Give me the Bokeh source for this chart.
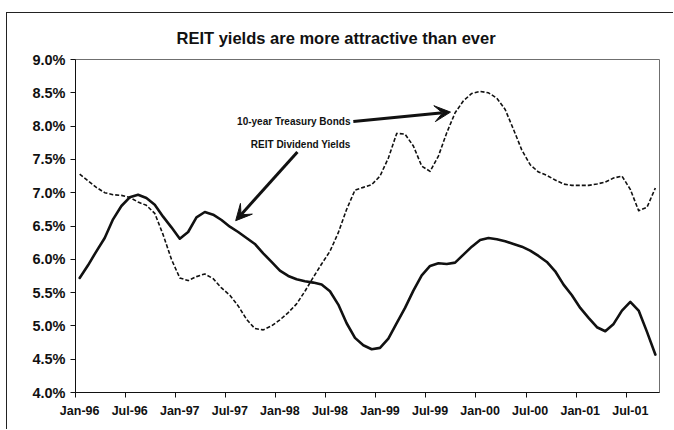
from bokeh.plotting import figure
from bokeh.models import FixedTicker, Label, Arrow, VeeHead
from bokeh.core.properties import value
from bokeh.embed import file_html
from bokeh.resources import INLINE

# ---------------- data ----------------
title_text = "REIT yields are more attractive than ever"

x_tick_labels = ["Jan-96", "Jul-96", "Jan-97", "Jul-97", "Jan-98", "Jul-98",
                 "Jan-99", "Jul-99", "Jan-00", "Jul-00", "Jan-01", "Jul-01"]

y_tick_values = [4.0, 4.5, 5.0, 5.5, 6.0, 6.5, 7.0, 7.5, 8.0, 8.5, 9.0]
y_tick_labels = ["4.0%", "4.5%", "5.0%", "5.5%", "6.0%", "6.5%",
                 "7.0%", "7.5%", "8.0%", "8.5%", "9.0%"]

# monthly values, Jan-96 .. Oct-01 (percent)
reit_dividend_yield = [
    5.72, 5.91, 6.12, 6.32, 6.60, 6.80, 6.93, 6.97, 6.92, 6.82, 6.64, 6.48,
    6.31, 6.41, 6.63, 6.71, 6.67, 6.59, 6.49, 6.41, 6.32, 6.23, 6.09, 5.96,
    5.83, 5.75, 5.70, 5.67, 5.65, 5.62, 5.52, 5.32, 5.04, 4.82, 4.71, 4.65,
    4.67, 4.81, 5.04, 5.27, 5.53, 5.76, 5.90, 5.94, 5.93, 5.95, 6.07, 6.19,
    6.29, 6.32, 6.30, 6.27, 6.23, 6.19, 6.13, 6.05, 5.96, 5.82, 5.62, 5.46,
    5.27, 5.12, 4.98, 4.92, 5.03, 5.23, 5.36, 5.23, 4.91, 4.57,
]

treasury_10y_yield = [
    7.28, 7.18, 7.08, 7.00, 6.97, 6.96, 6.93, 6.86, 6.81, 6.69, 6.37, 6.00,
    5.72, 5.68, 5.74, 5.78, 5.71, 5.57, 5.46, 5.30, 5.10, 4.96, 4.94, 5.00,
    5.09, 5.20, 5.33, 5.52, 5.73, 5.93, 6.12, 6.40, 6.75, 7.04, 7.08, 7.12,
    7.25, 7.52, 7.89, 7.88, 7.70, 7.40, 7.32, 7.55, 7.90, 8.20, 8.38, 8.49,
    8.52, 8.50, 8.42, 8.25, 7.95, 7.64, 7.42, 7.31, 7.26, 7.19, 7.13, 7.11,
    7.11, 7.11, 7.13, 7.16, 7.22, 7.25, 7.05, 6.73, 6.78, 7.07,
]

# ---------------- layout ----------------
n_months = len(reit_dividend_yield)
month_pos = [i + 0.5 for i in range(n_months)]          # category centres
boundary_ticks = [6 * k for k in range(len(x_tick_labels))]
label_ticks = [6 * k + 0.5 for k in range(len(x_tick_labels))]

FONT = "Liberation Sans"
INK = "#111111"

p = figure(width=667, height=417, x_range=(0, n_months), y_range=(4, 9),
           output_backend="svg", toolbar_location=None,
           min_border_left=68, min_border_right=15,
           min_border_top=46, min_border_bottom=38)

p.styles = {"border-top": "1px solid #222222", "border-left": "1px solid #222222",
            "margin-top": "12px", "margin-left": "6px"}

p.background_fill_color = "white"
p.border_fill_color = "white"
p.outline_line_color = "#6f6f6f"
p.xgrid.visible = False
p.ygrid.visible = False

# title
p.title.text = title_text
p.title.align = "left"
p.title.offset = 101
p.title.text_font = FONT
p.title.text_font_size = "16.5px"
p.title.text_font_style = "bold"
p.title.text_color = INK
p.title.standoff = 26

# x axis
xa = p.xaxis[0]
xa.ticker = FixedTicker(ticks=label_ticks, minor_ticks=boundary_ticks)
xa.major_label_overrides = {t: lab for t, lab in zip(label_ticks, x_tick_labels)}
xa.major_tick_in = 0
xa.major_tick_out = 0
xa.minor_tick_in = 0
xa.minor_tick_out = 5
xa.minor_tick_line_color = INK
xa.axis_line_color = INK
xa.major_label_standoff = 6
xa.major_label_text_font = FONT
xa.major_label_text_font_size = "12.5px"
xa.major_label_text_font_style = "bold"
xa.major_label_text_color = INK

# y axis
ya = p.yaxis[0]
ya.ticker = FixedTicker(ticks=y_tick_values)
ya.major_label_overrides = {t: lab for t, lab in zip(y_tick_values, y_tick_labels)}
ya.major_tick_in = 0
ya.major_tick_out = 5
ya.minor_tick_line_color = None
ya.axis_line_color = INK
ya.major_tick_line_color = INK
ya.major_label_standoff = 5
ya.major_label_text_font = FONT
ya.major_label_text_font_size = "14.5px"
ya.major_label_text_font_style = "bold"
ya.major_label_text_color = INK

# series
p.line(month_pos, treasury_10y_yield, line_color=INK, line_width=1.6,
       line_dash="4 2", line_join="round")
p.line(month_pos, reit_dividend_yield, line_color=INK, line_width=2.6,
       line_join="round", line_cap="round")

# annotations
p.add_layout(Arrow(end=VeeHead(size=16, fill_color=INK, line_color=INK),
                   x_start=33.3, y_start=8.07, x_end=44.95, y_end=8.21,
                   line_width=3, line_color=INK))
p.add_layout(Arrow(end=VeeHead(size=16, fill_color=INK, line_color=INK),
                   x_start=26.6, y_start=7.61, x_end=19.2, y_end=6.58,
                   line_width=3, line_color=INK))

for txt, yv in [("10-year Treasury Bonds", 8.07), ("REIT Dividend Yields", 7.72)]:
    p.add_layout(Label(x=32.96, y=yv, text=txt, text_align="right",
                       text_baseline="middle", text_font=FONT,
                       text_font_size="10px", text_font_style="bold",
                       text_color=INK))

open("out.html", "w").write(file_html(p, INLINE))
